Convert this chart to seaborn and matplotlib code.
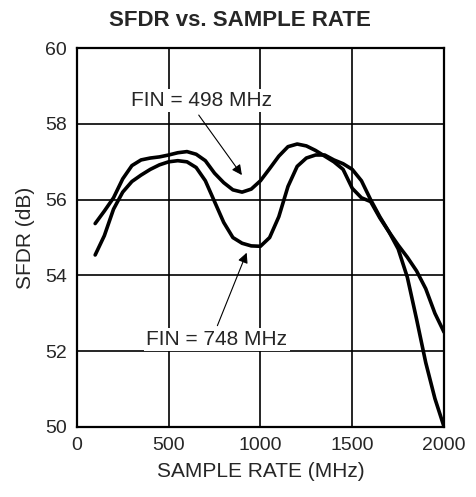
import matplotlib
matplotlib.use('Agg')
import matplotlib.pyplot as plt
import seaborn as sns
import pandas as pd

# sample rate (MHz) and SFDR (dB)
rate_498 = [100, 150, 200, 250, 300, 350, 400, 450, 500, 550, 600, 650, 700, 750, 800, 850, 900, 950,
            1000, 1050, 1100, 1150, 1200, 1250, 1300, 1350, 1400, 1450, 1500, 1550, 1600, 1650, 1700,
            1750, 1800, 1850, 1900, 1950, 2000]
sfdr_498 = [55.37, 55.7, 56.05, 56.55, 56.9, 57.05, 57.1, 57.13, 57.18, 57.24, 57.27, 57.2, 57.03, 56.7,
            56.45, 56.26, 56.2, 56.28, 56.5, 56.82, 57.15, 57.4, 57.47, 57.42, 57.3, 57.15, 57.0, 56.8,
            56.3, 56.05, 55.95, 55.52, 55.15, 54.8, 54.48, 54.12, 53.65, 53.0, 52.5]

rate_748 = [100, 150, 200, 250, 300, 350, 400, 450, 500, 550, 600, 650, 700, 750, 800, 850, 900, 950,
            1000, 1050, 1100, 1150, 1200, 1250, 1300, 1350, 1400, 1450, 1500, 1550, 1600, 1650, 1700,
            1750, 1800, 1850, 1900, 1950, 2000]
sfdr_748 = [54.54, 55.05, 55.75, 56.2, 56.48, 56.65, 56.8, 56.92, 57.0, 57.03, 57.0, 56.85, 56.5, 55.95,
            55.4, 55.0, 54.85, 54.78, 54.77, 55.0, 55.55, 56.35, 56.88, 57.1, 57.18, 57.18, 57.05, 56.95,
            56.8, 56.5, 56.0, 55.55, 55.15, 54.7, 53.95, 52.85, 51.7, 50.75, 50.0]

xticks = [0, 500, 1000, 1500, 2000]
yticks = [50, 52, 54, 56, 58, 60]

df = pd.concat([
    pd.DataFrame({'rate': rate_498, 'sfdr': sfdr_498, 'fin': '498'}),
    pd.DataFrame({'rate': rate_748, 'sfdr': sfdr_748, 'fin': '748'}),
])

sns.set_style('white')
plt.rcParams['font.family'] = ['Liberation Sans', 'DejaVu Sans']

fig = plt.figure(figsize=(4.77, 4.97), dpi=100)
ax = fig.add_axes([0.161, 0.141, 0.77, 0.762])

sns.lineplot(data=df, x='rate', y='sfdr', hue='fin', palette=['black', 'black'],
             linewidth=2.6, legend=False, ax=ax, zorder=3)

ax.set_xlim(0, 2000)
ax.set_ylim(50, 60)
ax.set_xticks(xticks)
ax.set_yticks(yticks)
ax.grid(True, color='black', linewidth=1.2)
ax.tick_params(axis='both', labelsize=14, length=0, pad=7)
for s in ax.spines.values():
    s.set_color('black')
    s.set_linewidth(1.6)

ax.set_xlabel('SAMPLE RATE (MHz)', fontsize=15, labelpad=6)
ax.set_ylabel('SFDR (dB)', fontsize=15, labelpad=7)
# title is centred on the figure, not on the axes
ax.set_title('SFDR vs. SAMPLE RATE', fontsize=16, fontweight='bold', pad=16, x=0.445)

box = dict(facecolor='white', edgecolor='none', pad=1.5)
ax.annotate('FIN = 498 MHz', xy=(899, 56.65), xytext=(681, 58.63), fontsize=15,
            ha='center', va='center', bbox=box, zorder=4,
            arrowprops=dict(arrowstyle='-|>', color='black', lw=0.8, relpos=(0.45, 0.0),
                            shrinkA=3, shrinkB=0))
ax.annotate('FIN = 748 MHz', xy=(925, 54.6), xytext=(763, 52.3), fontsize=15,
            ha='center', va='center', bbox=box, zorder=4,
            arrowprops=dict(arrowstyle='-|>', color='black', lw=0.8, relpos=(0.49, 1.0),
                            shrinkA=2, shrinkB=0))

fig.savefig('out.png', dpi=100)
